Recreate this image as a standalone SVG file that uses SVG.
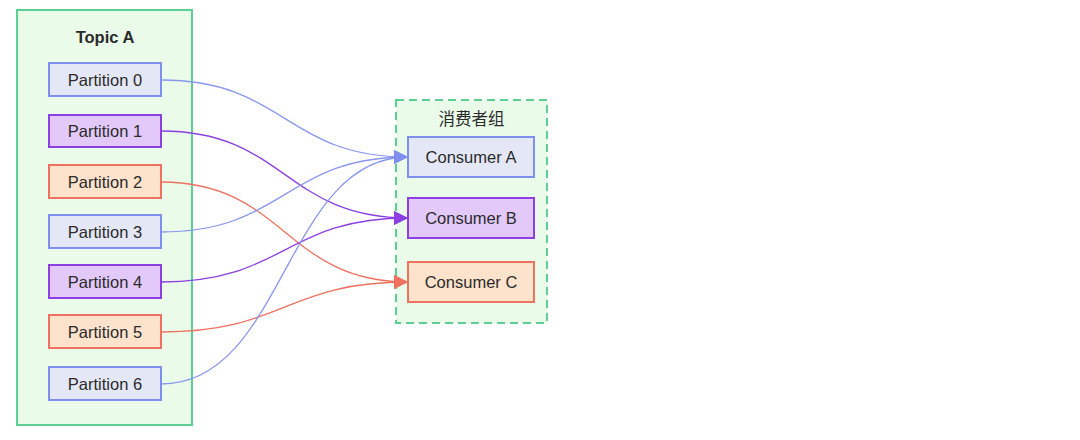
<svg xmlns="http://www.w3.org/2000/svg" width="1080" height="440" viewBox="0 0 1080 440">
<defs>
<style>
text{font-family:"Liberation Sans","Noto Sans CJK SC",Arial,sans-serif;fill:#2b2b2b;text-anchor:middle;dominant-baseline:central;font-size:16.5px}
.blue rect{fill:#e4e7f6;stroke:#7f8ff0;stroke-width:2}
.purple rect{fill:#e2c9fa;stroke:#8c3fe2;stroke-width:2}
.orange rect{fill:#fde2cc;stroke:#ef7160;stroke-width:2}
.e{fill:none;stroke-width:1.3}
.eb{stroke:#8a97ee}.ep{stroke:#8c3fe2}.eo{stroke:#ef7160}
</style>
<marker id="ab" viewBox="0 0 10 10" refX="10" refY="5" markerWidth="14" markerHeight="14" markerUnits="userSpaceOnUse" orient="auto"><path d="M0,0L10,5L0,10z" fill="#7f8ff0"/></marker>
<marker id="ap" viewBox="0 0 10 10" refX="10" refY="5" markerWidth="14" markerHeight="14" markerUnits="userSpaceOnUse" orient="auto"><path d="M0,0L10,5L0,10z" fill="#8c3fe2"/></marker>
<marker id="ao" viewBox="0 0 10 10" refX="10" refY="5" markerWidth="14" markerHeight="14" markerUnits="userSpaceOnUse" orient="auto"><path d="M0,0L10,5L0,10z" fill="#ef7160"/></marker>
</defs>
<rect width="1080" height="440" fill="#fff"/>
<g id="topicA">
<rect x="17" y="10" width="175" height="415" fill="#eafbea" stroke="#5ccf93" stroke-width="2"/>
<text x="105" y="37" font-size="17" font-weight="600">Topic A</text>
</g>
<g id="group">
<rect x="396" y="100" width="151" height="223" fill="#eafbea" stroke="#5ccf93" stroke-width="2" stroke-dasharray="8,5"/>
<text x="471.5" y="119" font-size="15">消费者组</text>
</g>
<g id="p0" class="blue"><rect x="49" y="63" width="112" height="33"/><text x="105" y="80">Partition 0</text></g>
<g id="p1" class="purple"><rect x="49" y="115" width="112" height="32"/><text x="105" y="131">Partition 1</text></g>
<g id="p2" class="orange"><rect x="49" y="165" width="112" height="33"/><text x="105" y="182">Partition 2</text></g>
<g id="p3" class="blue"><rect x="49" y="215" width="112" height="33"/><text x="105" y="232">Partition 3</text></g>
<g id="p4" class="purple"><rect x="49" y="265" width="112" height="33"/><text x="105" y="282">Partition 4</text></g>
<g id="p5" class="orange"><rect x="49" y="315" width="112" height="33"/><text x="105" y="332">Partition 5</text></g>
<g id="p6" class="blue"><rect x="49" y="367" width="112" height="33"/><text x="105" y="384">Partition 6</text></g>
<g id="ca" class="blue"><rect x="408" y="137" width="126" height="40"/><text x="471" y="157">Consumer A</text></g>
<g id="cb" class="purple"><rect x="408" y="198" width="126" height="40"/><text x="471" y="218">Consumer B</text></g>
<g id="cc" class="orange"><rect x="408" y="262" width="126" height="40"/><text x="471" y="282">Consumer C</text></g>
<g id="edges">
<path class="e eb" d="M161,80 C285,80 285,157 408,157" marker-end="url(#ab)"/>
<path class="e ep" d="M161,131 C285,131 285,218 408,218" marker-end="url(#ap)"/>
<path class="e eo" d="M161,182 C285,182 285,282 408,282" marker-end="url(#ao)"/>
<path class="e eb" d="M161,232 C285,232 285,157 408,157" marker-end="url(#ab)"/>
<path class="e ep" d="M161,282 C285,282 285,218 408,218" marker-end="url(#ap)"/>
<path class="e eo" d="M161,332 C285,332 285,282 408,282" marker-end="url(#ao)"/>
<path class="e eb" d="M161,384 C285,384 285,157 408,157" marker-end="url(#ab)"/>
</g>
</svg>
